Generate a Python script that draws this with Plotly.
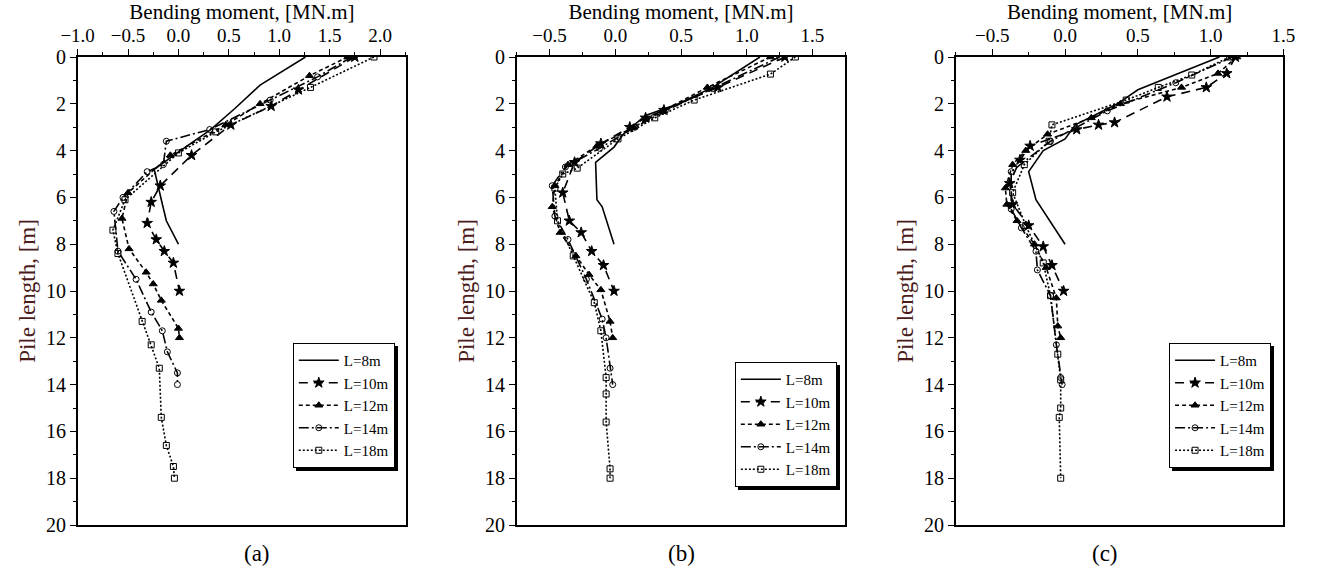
import plotly.graph_objects as go

W, H = 1317, 575
ML, MR, MT, MB = 0, 0, 57, 50
PW, PH = W - ML - MR, H - MT - MB

labels = ["L=8m", "L=10m", "L=12m", "L=14m", "L=18m"]

# ---------------- Panel (a) ----------------
a8_d = [0, 1.2, 2.2, 3.1, 4.0, 4.8, 6.1, 7.0, 8.0]
a8_m = [1.26, 0.81, 0.56, 0.32, 0.02, -0.24, -0.17, -0.12, 0.0]
a10_d = [0, 1.4, 2.1, 2.9, 4.2, 5.5, 6.2, 7.1, 7.8, 8.3, 8.8, 10.0]
a10_m = [1.75, 1.19, 0.92, 0.52, 0.13, -0.18, -0.27, -0.31, -0.22, -0.14, -0.05, 0.01]
a12_d = [0, 0.8, 2.0, 2.9, 4.2, 5.8, 6.9, 8.2, 9.2, 9.7, 10.4, 11.6, 12.0]
a12_m = [1.68, 1.30, 0.81, 0.47, -0.08, -0.50, -0.56, -0.49, -0.32, -0.25, -0.17, 0.0, 0.01]
a14_d = [0, 0.85, 1.84, 3.1, 3.6, 4.6, 4.9, 6.0, 6.6, 8.3, 9.5, 10.9, 11.7, 12.6, 13.5, 14.0]
a14_m = [1.72, 1.38, 0.91, 0.31, -0.12, -0.15, -0.31, -0.55, -0.64, -0.60, -0.42, -0.27, -0.16, -0.11, -0.01, -0.01]
a18_d = [0, 1.3, 3.2, 4.1, 6.1, 7.4, 8.4, 11.3, 12.3, 13.3, 15.4, 16.6, 17.5, 18.0]
a18_m = [1.94, 1.31, 0.37, 0.0, -0.53, -0.65, -0.60, -0.36, -0.27, -0.19, -0.17, -0.12, -0.05, -0.04]

# ---------------- Panel (b) ----------------
b8_d = [0, 1.3, 2.0, 2.5, 3.3, 3.85, 4.5, 6.1, 6.4, 8.0]
b8_m = [1.10, 0.74, 0.48, 0.23, 0.06, -0.01, -0.15, -0.14, -0.10, -0.01]
b10_d = [0, 1.3, 2.27, 2.6, 3.0, 3.7, 4.5, 5.8, 7.0, 7.5, 8.3, 8.9, 10.0]
b10_m = [1.29, 0.78, 0.37, 0.23, 0.11, -0.11, -0.31, -0.40, -0.35, -0.26, -0.18, -0.09, -0.01]
b12_d = [0, 1.3, 2.3, 3.0, 3.8, 4.6, 5.5, 6.4, 7.5, 8.5, 9.3, 9.95, 11.3, 12.0]
b12_m = [1.18, 0.70, 0.36, 0.14, -0.14, -0.36, -0.46, -0.48, -0.42, -0.30, -0.20, -0.11, -0.04, -0.02]
b14_d = [0, 1.35, 2.3, 3.0, 3.9, 4.7, 5.5, 6.8, 7.8, 9.5, 11.2, 12.0, 13.3, 14.0]
b14_m = [1.25, 0.74, 0.38, 0.15, -0.12, -0.38, -0.48, -0.46, -0.36, -0.22, -0.10, -0.07, -0.04, -0.02]
b18_d = [0, 0.73, 1.84, 2.6, 3.5, 4.75, 5.0, 5.6, 7.0, 8.5, 10.5, 11.7, 13.7, 14.4, 15.6, 17.6, 18.0]
b18_m = [1.37, 1.18, 0.60, 0.30, 0.02, -0.29, -0.40, -0.46, -0.44, -0.32, -0.16, -0.11, -0.07, -0.07, -0.07, -0.04, -0.04]

# ---------------- Panel (c) ----------------
c8_d = [0, 0.5, 1.4, 2.0, 2.9, 3.5, 4.0, 4.9, 6.1, 8.0]
c8_m = [1.06, 0.86, 0.50, 0.36, 0.07, 0.0, -0.15, -0.25, -0.20, 0.0]
c10_d = [0, 0.7, 1.3, 1.7, 2.8, 2.9, 3.1, 3.8, 4.4, 5.4, 6.3, 7.2, 8.1, 8.9, 10.0]
c10_m = [1.17, 1.11, 0.97, 0.70, 0.34, 0.23, 0.08, -0.24, -0.31, -0.38, -0.36, -0.25, -0.15, -0.09, -0.01]
c12_d = [0, 0.7, 1.3, 2.0, 2.6, 3.3, 4.0, 4.6, 5.6, 6.3, 7.0, 8.0, 9.0, 10.3, 11.5, 12.0]
c12_m = [1.18, 1.05, 0.80, 0.38, 0.18, -0.12, -0.27, -0.36, -0.41, -0.40, -0.33, -0.21, -0.13, -0.06, -0.05, -0.03]
c14_d = [0, 1.1, 2.3, 3.6, 4.9, 6.5, 7.3, 8.3, 9.1, 10.2, 12.3, 13.7, 14.0]
c14_m = [1.15, 0.76, 0.29, -0.10, -0.37, -0.37, -0.30, -0.20, -0.19, -0.10, -0.06, -0.03, -0.02]
c18_d = [0, 0.77, 1.3, 1.84, 2.9, 3.6, 4.6, 5.8, 7.2, 8.8, 10.2, 12.7, 13.8, 15.0, 15.4, 18.0]
c18_m = [1.13, 0.87, 0.64, 0.42, -0.09, -0.11, -0.28, -0.36, -0.27, -0.15, -0.10, -0.05, -0.03, -0.03, -0.04, -0.03]

panels = [
    [(a8_m, a8_d), (a10_m, a10_d), (a12_m, a12_d), (a14_m, a14_d), (a18_m, a18_d)],
    [(b8_m, b8_d), (b10_m, b10_d), (b12_m, b12_d), (b14_m, b14_d), (b18_m, b18_d)],
    [(c8_m, c8_d), (c10_m, c10_d), (c12_m, c12_d), (c14_m, c14_d), (c18_m, c18_d)],
]
panel_tags = ["(a)", "(b)", "(c)"]
x_ranges = [[-1.0, 2.26], [-0.75, 1.75], [-0.75, 1.5]]
x_tick0 = [-1.0, -0.5, -0.5]

FONT = "Liberation Serif, Times New Roman, serif"
styles = [
    dict(dash="solid", mode="lines", symbol="circle", size=6),
    dict(dash="9px,6px", mode="lines+markers", symbol="star", size=8),
    dict(dash="4px,3px", mode="lines+markers", symbol="triangle-up", size=7),
    dict(dash="10px,3px,2px,3px", mode="lines+markers", symbol="circle-open", size=6),
    dict(dash="2px,2px", mode="lines+markers", symbol="square-open", size=6),
]

# plot area pixel positions
px_dom = [(62, 398), (511, 847), (960, 1295)]
legend_px = [(282, 343), (734, 362), (1178, 343)]
SHADOW = 3
# blank label (three em spaces ~ width of "L=18m") for the drop-shadow legend
BLANK = "\u2003\u2003\u2003"

def legend_cfg(lx, ly, bg):
    return dict(
        x=(lx - ML) / PW, y=(H - MB - ly) / PH, xanchor="left", yanchor="top",
        xref="paper", yref="paper",
        bgcolor=bg, bordercolor="black", borderwidth=1,
        font=dict(family=FONT, size=15, color="black"), itemwidth=40,
        tracegroupgap=0, itemsizing="trace",
    )

def trace_style(p, i, name):
    st = styles[i]
    return dict(
        name=name, mode=st["mode"],
        line=dict(color="black", width=1.6, dash=st["dash"]),
        marker=dict(symbol=st["symbol"], size=st["size"], color="black",
                    line=dict(color="black", width=1)),
        xaxis="x" if p == 0 else f"x{p+1}", yaxis="y" if p == 0 else f"y{p+1}",
        showlegend=True, hoverinfo="skip",
    )

fig = go.Figure()
# empty twin entries first: they only size the legends' drop shadows (legend, legend2, legend3)
for p, series in enumerate(panels):
    for i in range(len(series)):
        fig.add_trace(go.Scatter(x=[None], y=[None],
                                 legend="legend" if p == 0 else f"legend{p+1}",
                                 **trace_style(p, i, BLANK)))
# real data, with the visible legends (legend4..legend6)
for p, series in enumerate(panels):
    for i, (m, d) in enumerate(series):
        fig.add_trace(go.Scatter(x=m, y=d, legend=f"legend{p+4}", **trace_style(p, i, labels[i])))

layout = dict(
    width=W, height=H, margin=dict(l=ML, r=MR, t=MT, b=MB),
    paper_bgcolor="white", plot_bgcolor="white",
    font=dict(family=FONT, size=17, color="black"),
    annotations=[],
)
for p in range(3):
    sx = "" if p == 0 else str(p + 1)
    x0, x1 = px_dom[p]
    layout["xaxis" + sx] = dict(
        domain=[x0 / W, x1 / W], range=x_ranges[p], side="top",
        anchor="y" + sx, tick0=x_tick0[p], dtick=0.5, tickformat=".1f",
        ticks="outside", ticklen=6, tickwidth=1.2, tickcolor="black",
        minor=dict(ticks="outside", ticklen=3, dtick=0.25, tick0=x_tick0[p], tickcolor="black"),
        showline=True, linecolor="black", linewidth=1.5, mirror=True,
        showgrid=False, zeroline=False,
        tickfont=dict(family=FONT, size=19),
        title=dict(text="Bending moment, [MN.m]", font=dict(family=FONT, size=21), standoff=2),
    )
    layout["yaxis" + sx] = dict(
        domain=[0, 1], range=[20, 0], anchor="x" + sx,
        tick0=0, dtick=2, ticks="outside", ticklen=6, tickwidth=1.2, tickcolor="black",
        minor=dict(ticks="outside", ticklen=3, dtick=1, tickcolor="black"),
        showline=True, linecolor="black", linewidth=1.5, mirror=True,
        showgrid=False, zeroline=False,
        tickfont=dict(family=FONT, size=20),
        title=dict(text="Pile length, [m]", font=dict(family=FONT, size=23, color="#4b1c1c"), standoff=4),
    )
    lx, ly = legend_px[p]
    layout["legend" if p == 0 else f"legend{p+1}"] = legend_cfg(lx + SHADOW, ly + SHADOW, "black")
    layout[f"legend{p+4}"] = legend_cfg(lx, ly, "white")
    layout["annotations"].append(dict(
        text=panel_tags[p], xref="paper", yref="paper", showarrow=False,
        x=((x0 + x1) / 2) / PW, y=(H - MB - 553) / PH, yanchor="middle",
        font=dict(family=FONT, size=23),
    ))

fig.update_layout(**layout)
fig.write_html("out.html")
